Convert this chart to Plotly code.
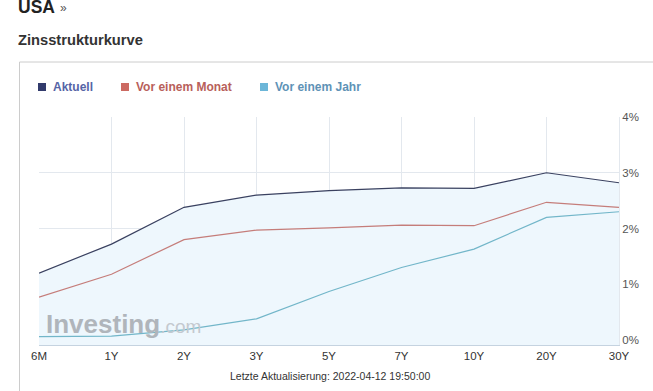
import plotly.graph_objects as go

# ---- data ----
maturities = ["6M", "1Y", "2Y", "3Y", "5Y", "7Y", "10Y", "20Y", "30Y"]
aktuell = [1.20, 1.72, 2.38, 2.60, 2.68, 2.73, 2.72, 3.00, 2.82]
vor_einem_monat = [0.77, 1.18, 1.80, 1.97, 2.01, 2.06, 2.05, 2.47, 2.38]
vor_einem_jahr = [0.06, 0.07, 0.18, 0.38, 0.87, 1.30, 1.63, 2.20, 2.30]
y_ticks = [0, 1, 2, 3, 4]
y_tick_labels = ["0%", "1%", "2%", "3%", "4%"]
series_names = ["Aktuell", "Vor einem Monat", "Vor einem Jahr"]

# ---- style ----
W, H = 653, 391
L, R, T, B = 39, 619, 117, 345  # plot area in px
Y_MIN, Y_MAX = -0.09, 4.0
line_colors = ["#3a4160", "#c57d7a", "#72b6c9"]
square_colors = ["#323b6c", "#cc6a62", "#6cb6d8"]
text_colors = ["#5564a6", "#b8605a", "#5e92b6"]
fill_color = "#eef7fd"
grid_color = "#e3e8ee"
FONT = "Liberation Sans, Arial, sans-serif"


def px_x(px):
    return (px - L) / (R - L)


def px_y(py):
    return (B - py) / (B - T)


fig = go.Figure()

# baseline for area fill
fig.add_trace(go.Scatter(x=maturities, y=[Y_MIN] * len(maturities), mode="lines",
                         line=dict(width=0), showlegend=False, hoverinfo="skip"))
fig.add_trace(go.Scatter(x=maturities, y=aktuell, mode="lines", fill="tonexty",
                         fillcolor=fill_color, line=dict(width=0),
                         showlegend=False, hoverinfo="skip"))

for name, vals, col in zip(series_names[::-1], [vor_einem_jahr, vor_einem_monat, aktuell],
                           line_colors[::-1]):
    fig.add_trace(go.Scatter(x=maturities, y=vals, mode="lines", name=name,
                             line=dict(color=col, width=1.2), showlegend=False))

shapes = []
annotations = []

# outer box
shapes.append(dict(type="line", xref="paper", yref="paper",
                   x0=px_x(19.5), x1=px_x(19.5), y0=px_y(62), y1=px_y(391),
                   line=dict(color="#cccccc", width=1)))
shapes.append(dict(type="line", xref="paper", yref="paper",
                   x0=px_x(19.5), x1=px_x(653), y0=px_y(62), y1=px_y(62),
                   line=dict(color="#cccccc", width=1)))

# custom legend
leg_x = [38, 121, 260]
for i, name in enumerate(series_names):
    x0 = leg_x[i]
    shapes.append(dict(type="rect", xref="paper", yref="paper",
                       x0=px_x(x0), x1=px_x(x0 + 8), y0=px_y(83), y1=px_y(91),
                       fillcolor=square_colors[i], line=dict(width=0)))
    annotations.append(dict(text=f"<b>{name}</b>", xref="paper", yref="paper",
                            x=px_x(x0 + 13), y=px_y(87), xanchor="left", yanchor="middle",
                            showarrow=False, font=dict(size=12, color=text_colors[i], family=FONT)))

# titles
annotations.append(dict(text="<b>USA</b>", xref="paper", yref="paper", x=px_x(16), y=px_y(7),
                        xanchor="left", yanchor="middle", showarrow=False,
                        font=dict(size=17.5, color="#222222", family=FONT)))
annotations.append(dict(text="»", xref="paper", yref="paper", x=px_x(58), y=px_y(8),
                        xanchor="left", yanchor="middle", showarrow=False,
                        font=dict(size=12, color="#555555", family=FONT)))
annotations.append(dict(text="<b>Zinsstrukturkurve</b>", xref="paper", yref="paper",
                        x=px_x(16), y=px_y(40), xanchor="left", yanchor="middle",
                        showarrow=False, font=dict(size=14.7, color="#333333", family=FONT)))
# footer
annotations.append(dict(text="Letzte Aktualisierung: 2022-04-12 19:50:00", xref="paper",
                        yref="paper", x=px_x(330), y=px_y(376), xanchor="center",
                        yanchor="middle", showarrow=False,
                        font=dict(size=10.5, color="#333333", family=FONT)))
# watermark
annotations.append(dict(text="<b>Investing</b><span style='font-size:19px;color:#c4c9cf'>.com</span>",
                        xref="paper", yref="paper", x=px_x(44), y=px_y(324),
                        xanchor="left", yanchor="middle", showarrow=False,
                        font=dict(size=26, color="#b0b5bb", family=FONT)))

fig.update_layout(
    width=W, height=H,
    margin=dict(l=L, r=W - R, t=T, b=H - B, pad=0),
    paper_bgcolor="white", plot_bgcolor="white",
    showlegend=False,
    shapes=shapes, annotations=annotations,
    font=dict(family=FONT, color="#333333"),
    xaxis=dict(type="category", range=[0, len(maturities) - 1], showgrid=True,
               gridcolor=grid_color, gridwidth=1, zeroline=False,
               showline=True, linecolor="#c5d3e0", linewidth=1,
               ticks="", tickfont=dict(size=11.5, color="#333333"), fixedrange=True),
    yaxis=dict(range=[Y_MIN, Y_MAX], side="right", tickmode="array", tickvals=y_ticks,
               ticktext=y_tick_labels,
               showgrid=True, gridcolor=grid_color, gridwidth=1, zeroline=False,
               showline=True, linecolor=grid_color, ticks="",
               tickfont=dict(size=11.5, color="#555555"), fixedrange=True),
)

fig.write_html("out.html", config={"displayModeBar": False},
               post_script="document.body.style.margin='0';")
